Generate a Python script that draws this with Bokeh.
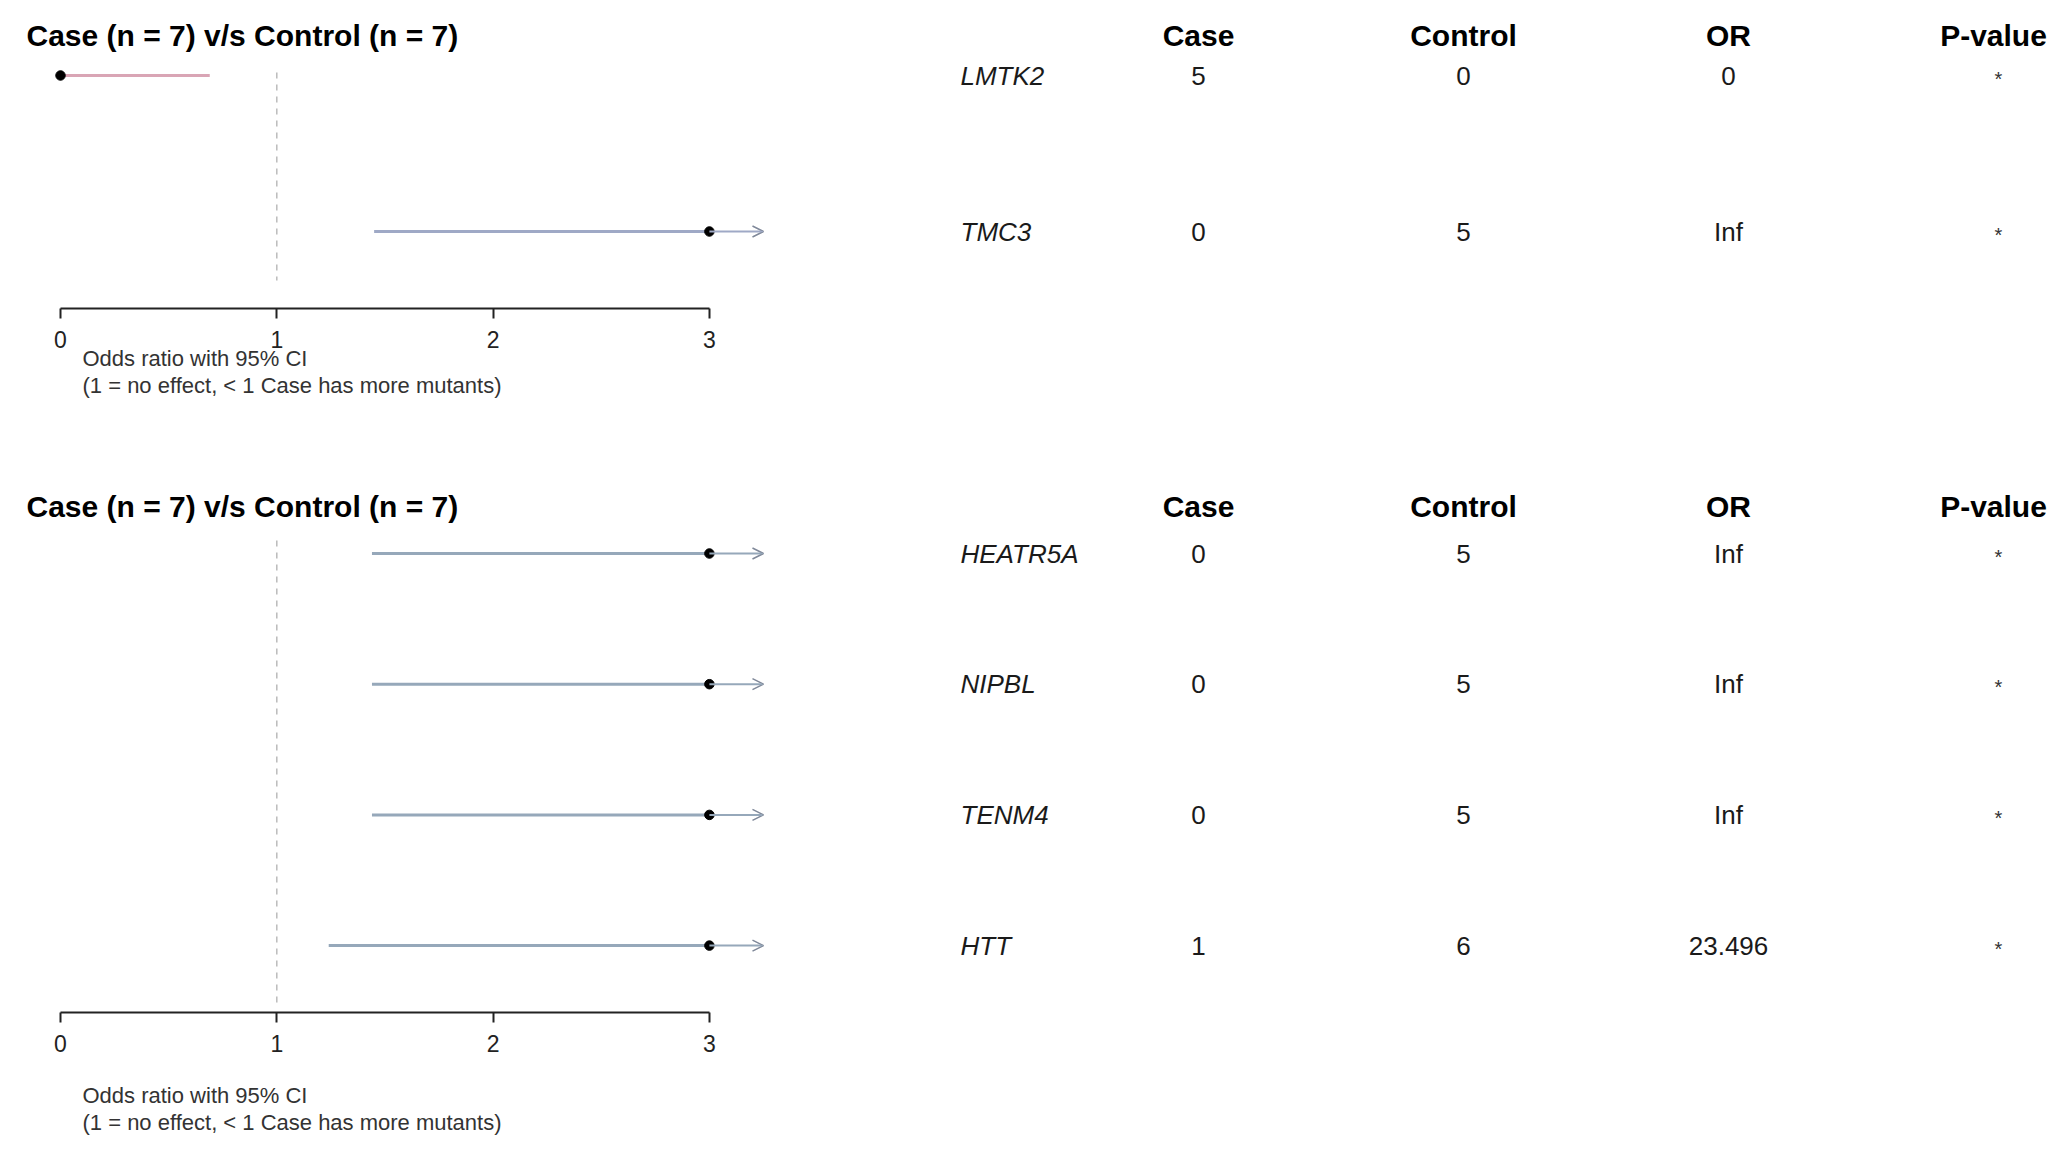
import math

from bokeh.core.properties import value
from bokeh.embed import file_html
from bokeh.layouts import column
from bokeh.models import Arrow, ColumnDataSource, FixedTicker, LinearAxis, OpenHead, Range1d, Title
from bokeh.plotting import figure
from bokeh.resources import INLINE

# data
title = "Case (n = 7) v/s Control (n = 7)"
headers = ["Case", "Control", "OR", "P-value"]

genes_top = ["LMTK2", "TMC3"]
case_top = [5, 0]
control_top = [0, 5]
or_top = [0.0, math.inf]
or_label_top = ["0", "Inf"]
ci_low_top = [0.0, 1.45]
ci_high_top = [0.69, math.inf]
p_top = ["*", "*"]

genes_bot = ["HEATR5A", "NIPBL", "TENM4", "HTT"]
case_bot = [0, 0, 0, 1]
control_bot = [5, 5, 5, 6]
or_bot = [math.inf, math.inf, math.inf, 23.496]
or_label_bot = ["Inf", "Inf", "Inf", "23.496"]
ci_low_bot = [1.44, 1.44, 1.44, 1.24]
ci_high_bot = [math.inf, math.inf, math.inf, math.inf]
p_bot = ["*", "*", "*", "*"]

x_ticks = [0, 1, 2, 3]
x_clip = 3.0
caption = ["Odds ratio with 95% CI", "(1 = no effect, < 1 Case has more mutants)"]

FONT = value("Liberation Sans")
PAGE_W = 2056
X0 = 60        # x of OR = 0
UNIT = 216.3   # px per OR unit


def xd(px):
    return (px - X0) / UNIT


def panel(genes, case, control, ors, or_labels, lo, hi, pv, top, header, row0, gap,
          axis_y, bottom, dash, cap_space, cap_standoff, line_color):
    def yd(py):
        return (py - row0) / gap

    rows = list(range(len(genes)))
    p = figure(width=PAGE_W, height=bottom - top, output_backend="svg", toolbar_location=None,
               x_range=Range1d(xd(0), xd(PAGE_W)), y_range=Range1d(yd(axis_y), yd(top)),
               x_axis_type=None, y_axis_type=None,
               min_border_left=0, min_border_right=0, min_border_top=0,
               min_border_bottom=bottom - axis_y)
    p.outline_line_color = None

    ax = LinearAxis(ticker=FixedTicker(ticks=x_ticks), bounds=(0, 3))
    ax.axis_line_width = 2
    ax.axis_line_color = "#222222"
    ax.major_tick_line_width = 2
    ax.major_tick_line_color = "#222222"
    ax.major_tick_out = 10
    ax.major_tick_in = 0
    ax.minor_tick_line_color = None
    ax.major_label_text_font = "Liberation Sans"
    ax.major_label_text_font_size = "23px"
    ax.major_label_text_color = "#222222"
    ax.major_label_standoff = 12
    p.add_layout(ax, "below")

    if cap_space:
        # empty spacer between the tick labels and the caption
        p.add_layout(Title(text=" ", text_font_size="1px", standoff=cap_space), "below")
    for line, so in zip(caption, cap_standoff):
        p.add_layout(Title(text=line, align="left", offset=82, standoff=so,
                           text_font="Liberation Sans", text_font_size="22px",
                           text_font_style="normal", text_color="#333333"), "below")

    # no-effect line
    p.segment(x0=[1], y0=[yd(dash[0])], x1=[1], y1=[yd(dash[1])],
              line_color="#bbbbbb", line_width=1.5, line_dash="6 6")

    colors = ["#d9a5b5" if o < 1 else line_color for o in ors]
    src = ColumnDataSource(dict(
        y=rows, lo=lo, hi=[min(h, x_clip) for h in hi], est=[min(o, x_clip) for o in ors],
        color=colors))
    p.segment(x0="lo", y0="y", x1="hi", y1="y", source=src, line_color="color", line_width=3)

    for i, h in enumerate(hi):
        if h > x_clip:
            p.add_layout(Arrow(end=OpenHead(size=11, line_color="#7f8899", line_width=1.5),
                               x_start=x_clip, y_start=i, x_end=x_clip + 0.25, y_end=i,
                               line_color=line_color, line_width=2))

    p.scatter(x="est", y="y", source=src, size=9.5, color="black")

    # title and table
    p.text(x=[xd(26)], y=[yd(header)], text=[title], text_font=FONT, text_font_style="bold",
           text_font_size="30px", text_baseline="middle", text_align="left", text_color="black")
    col_x = [xd(1198), xd(1463), xd(1728), xd(1993)]
    p.text(x=col_x, y=[yd(header)] * 4, text=headers, text_font=FONT, text_font_style="bold",
           text_font_size="30px", text_baseline="middle", text_align="center", text_color="black")
    p.text(x=[xd(960)] * len(rows), y=rows, text=genes, text_font=FONT, text_font_style="italic",
           text_font_size="26px", text_baseline="middle", text_align="left", text_color="#1a1a1a")
    for cx, vals in zip(col_x[:3], [case, control, or_labels]):
        p.text(x=[cx] * len(rows), y=rows, text=[str(v) for v in vals], text_font=FONT,
               text_font_size="26px", text_baseline="middle", text_align="center",
               text_color="#1a1a1a")
    p.text(x=[xd(1998)] * len(rows), y=[r + 3 / gap for r in rows], text=pv,
           text_font=FONT, text_font_size="20px", text_baseline="middle", text_align="center",
           text_color="#333333")
    return p


top_panel = panel(genes_top, case_top, control_top, or_top, or_label_top, ci_low_top, ci_high_top,
                  p_top, top=0, header=35, row0=75, gap=156, axis_y=308, bottom=470,
                  dash=(72, 280), cap_space=0, cap_standoff=(-14, 14), line_color="#9fa9c6")
bot_panel = panel(genes_bot, case_bot, control_bot, or_bot, or_label_bot, ci_low_bot, ci_high_bot,
                  p_bot, top=470, header=506, row0=553, gap=130.7, axis_y=1012, bottom=1157,
                  dash=(540, 1002), cap_space=23, cap_standoff=(0, 0), line_color="#96a8ba")

layout = column(top_panel, bot_panel, spacing=0)
open("out.html", "w").write(file_html(layout, INLINE))
